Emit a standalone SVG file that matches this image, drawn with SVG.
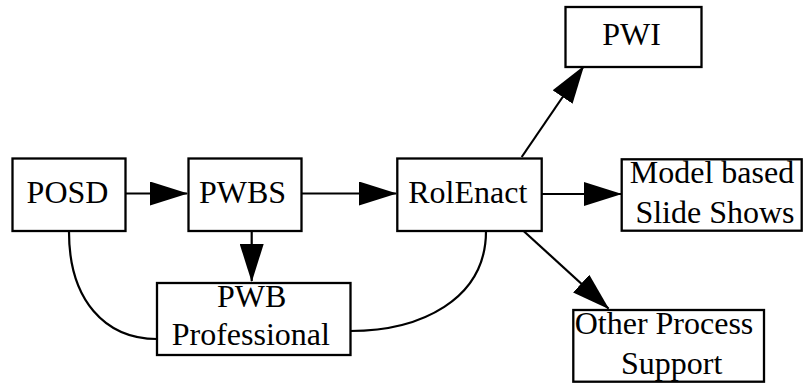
<svg xmlns="http://www.w3.org/2000/svg" width="803" height="383" viewBox="0 0 803 383">
<style>
.box{fill:#fff;stroke:#000;stroke-width:2.3}
.t{font-family:"Liberation Serif","Times New Roman",serif;font-size:32px;fill:#000;text-anchor:middle}
.e{fill:none;stroke:#000;stroke-width:2.2}
.a{marker-end:url(#ah)}
</style>
<defs>
<marker id="ah" markerUnits="userSpaceOnUse" markerWidth="38" markerHeight="24" viewBox="0 0 38 24" refX="37" refY="12" orient="auto">
<path d="M0,0 L38,12 L0,24 z" fill="#000"/>
</marker>
</defs>
<rect width="803" height="383" fill="#fff"/>
<g id="connectors">
<line class="e a" x1="126" y1="193.5" x2="187" y2="193.5"/>
<line class="e a" x1="302" y1="193.5" x2="396" y2="193.5"/>
<line class="e a" x1="251.7" y1="232" x2="251.7" y2="281"/>
<line class="e a" x1="521.7" y1="157" x2="583.5" y2="66.5"/>
<line class="e a" x1="542" y1="194" x2="621" y2="194"/>
<line class="e a" x1="523.3" y1="230.7" x2="608.5" y2="308.5"/>
<path class="e" d="M69,232 C69,300 105,339 157,339"/>
<path class="e" d="M486,231 C486,300 420,331 350,331"/>
</g>
<g id="posd"><rect class="box" x="12.5" y="158.5" width="113" height="72.5"/><text class="t" x="67.5" y="202.5">POSD</text></g>
<g id="pwbs"><rect class="box" x="188.5" y="158.5" width="113" height="72.5"/><text class="t" x="242.5" y="202.5">PWBS</text></g>
<g id="pwb"><rect class="box" x="157" y="283" width="193.5" height="72"/><text class="t" x="251.7" y="307.3">PWB</text><text class="t" x="250.8" y="345">Professional</text></g>
<g id="rolenact"><rect class="box" x="397.3" y="158.5" width="144.4" height="72.5"/><text class="t" x="467.8" y="203.3">RolEnact</text></g>
<g id="pwi"><rect class="box" x="565.5" y="7" width="136" height="60"/><text class="t" x="631.5" y="45">PWI</text></g>
<g id="model"><rect class="box" x="621.7" y="159.3" width="180" height="71.4"/><text class="t" x="712" y="183.3">Model based</text><text class="t" x="715" y="222.7">Slide Shows</text></g>
<g id="other"><rect class="box" x="573.3" y="310" width="190.7" height="71.7"/><text class="t" x="664" y="334.3">Other Process</text><text class="t" x="671.7" y="374">Support</text></g>
</svg>
